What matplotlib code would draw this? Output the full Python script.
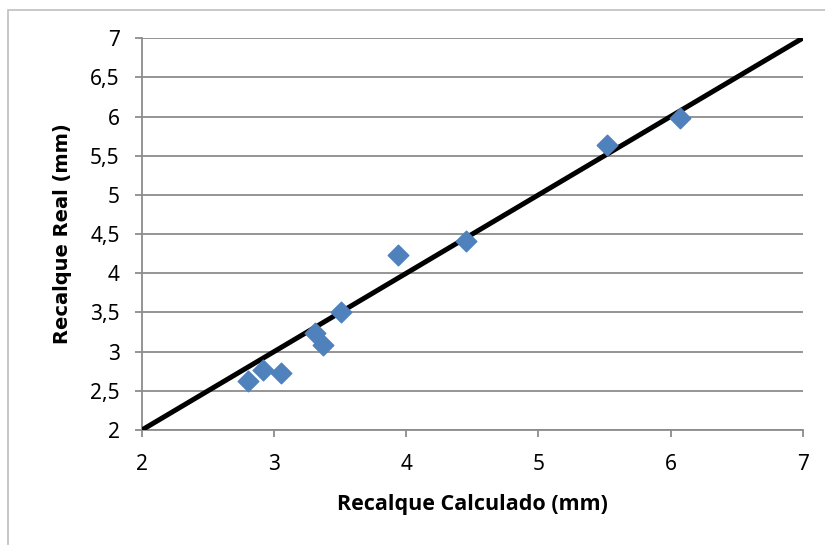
import matplotlib.pyplot as plt
from matplotlib.patches import Rectangle
from matplotlib.ticker import FuncFormatter

# Recalque calculado x real (mm)
calculado = [2.80, 2.92, 3.05, 3.31, 3.37, 3.51, 3.94, 4.45, 5.52, 6.07]
real = [2.62, 2.76, 2.73, 3.24, 3.08, 3.51, 4.23, 4.41, 5.64, 5.98]
linha = [2, 7]

fig = plt.figure(figsize=(8.25, 5.45), dpi=100)
ax = fig.add_axes([0.172, 0.211, 0.801, 0.719])

# moldura da area do grafico
fig.patches.append(Rectangle((8 / 825, -0.1), 1.2, 1 - 10 / 545 + 0.1,
                             transform=fig.transFigure, fill=False,
                             edgecolor='#bfbfbf', linewidth=1.2))

ax.plot(linha, linha, color='black', linewidth=3.6, zorder=3, solid_capstyle='butt')
ax.scatter(calculado, real, marker='D', s=110, color='#4f81bd', zorder=4)

ax.set_xlim(2, 7)
ax.set_ylim(2, 7)
ax.set_xticks(range(2, 8))
ax.set_yticks([2 + 0.5 * i for i in range(11)])
fmt = FuncFormatter(lambda v, p: ('%g' % v).replace('.', ','))
ax.xaxis.set_major_formatter(fmt)
ax.yaxis.set_major_formatter(fmt)

ax.yaxis.grid(True, color='#8c8c8c', linewidth=1.3)
ax.set_axisbelow(True)
for s in ['top', 'right']:
    ax.spines[s].set_visible(False)
for s in ['left', 'bottom']:
    ax.spines[s].set_color('#8c8c8c')
    ax.spines[s].set_linewidth(1.3)
ax.tick_params(colors='#8c8c8c', length=5, width=1.3, labelcolor='black',
               labelsize=15)
ax.tick_params(axis='x', pad=12)
ax.tick_params(axis='y', pad=11)
for lab in ax.get_xticklabels() + ax.get_yticklabels():
    lab.set_fontfamily('Noto Sans')

ax.set_xlabel('Recalque Calculado (mm)', fontfamily='Open Sans', fontweight='bold',
              fontsize=15.5, labelpad=14)
ax.set_ylabel('Recalque Real (mm)', fontfamily='DejaVu Sans', fontweight='bold',
              fontsize=14, labelpad=13)

fig.savefig('out.png', dpi=100)
